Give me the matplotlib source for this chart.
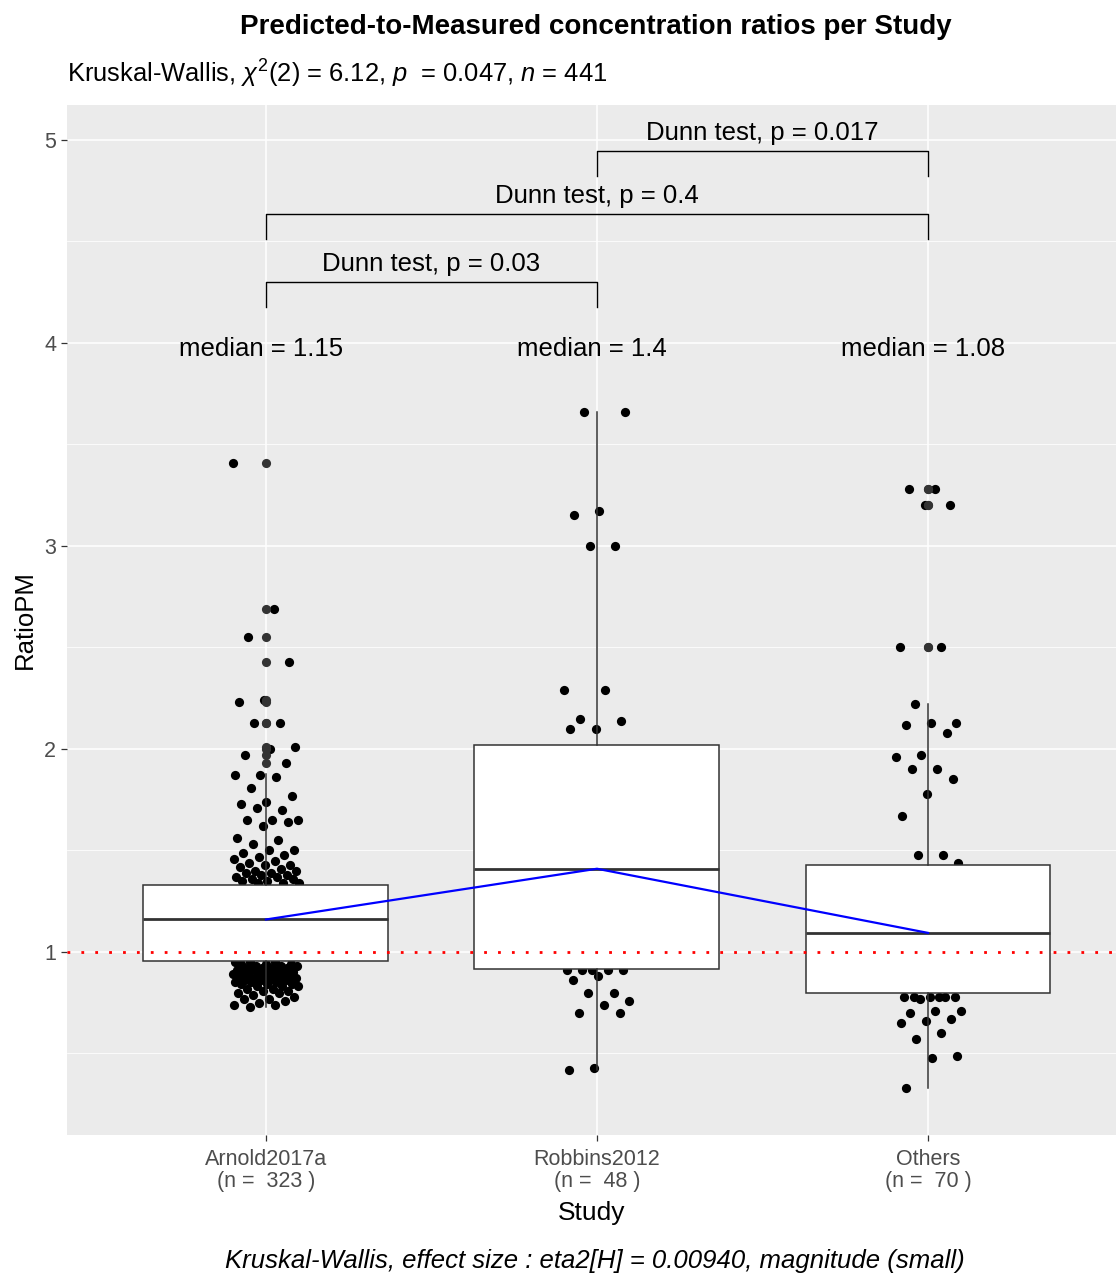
import matplotlib
matplotlib.use("Agg")
import matplotlib.pyplot as plt
import numpy as np

plt.rcParams["font.family"] = ["Liberation Sans", "DejaVu Sans"]
plt.rcParams["mathtext.fontset"] = "custom"
plt.rcParams["mathtext.rm"] = "Liberation Sans"
plt.rcParams["mathtext.it"] = "Liberation Sans:italic"

studies = ["Arnold2017a", "Robbins2012", "Others"]
counts = [323, 48, 70]
medians = [1.16, 1.41, 1.094]
median_labels = ["median = 1.15", "median = 1.4", "median = 1.08"]
q1 = [0.956, 0.916, 0.80]
q3 = [1.33, 2.02, 1.43]
whisker_low = [0.73, 0.42, 0.33]
whisker_high = [1.877, 3.66, 2.22]

# visible points (points hidden under the boxes are approximate)
arnold = [3.41, 2.69, 2.55, 2.43, 2.24, 2.23, 2.13, 2.13, 2.01, 2.00, 1.97, 1.93,
          1.87, 1.87, 1.86, 1.81, 1.77, 1.74, 1.73, 1.70, 1.71, 1.65, 1.65, 1.65,
          1.64, 1.62, 1.56, 1.55, 1.53, 1.50, 1.50, 1.49, 1.48, 1.47, 1.46, 1.45,
          1.44, 1.43, 1.43, 1.42, 1.41, 1.40, 1.40, 1.39, 1.39, 1.38, 1.38, 1.37,
          1.37, 1.36, 1.36, 1.35, 1.35, 1.34, 1.34, 1.34,
          1.30, 1.27, 1.24, 1.20, 1.17, 1.15, 1.13, 1.10, 1.07, 1.04, 1.01, 0.98,
          0.95, 0.95, 0.95, 0.94, 0.94, 0.94, 0.93, 0.93, 0.93, 0.92, 0.92, 0.92,
          0.92, 0.91, 0.91, 0.91, 0.90, 0.90, 0.90, 0.90, 0.89, 0.89, 0.89, 0.88,
          0.88, 0.88, 0.88, 0.87, 0.87, 0.87, 0.86, 0.86, 0.86, 0.86, 0.85, 0.85,
          0.85, 0.84, 0.84, 0.84, 0.83, 0.83, 0.83, 0.82, 0.82, 0.81, 0.81, 0.80,
          0.80, 0.79, 0.78, 0.77, 0.77, 0.76, 0.75, 0.74, 0.74, 0.73]
robbins = [3.66, 3.66, 3.17, 3.15, 3.00, 3.00, 2.29, 2.29, 2.15, 2.14, 2.10, 2.10,
           1.90, 1.70, 1.50, 1.30, 1.10, 1.00,
           0.91, 0.91, 0.91, 0.91, 0.91, 0.88, 0.86, 0.80, 0.80, 0.76, 0.74, 0.70,
           0.70, 0.43, 0.42]
others = [3.28, 3.28, 3.20, 3.20, 2.50, 2.50, 2.22, 2.13, 2.13, 2.12, 2.08, 1.97,
          1.96, 1.90, 1.90, 1.85, 1.78, 1.67, 1.48, 1.48, 1.44,
          1.30, 1.20, 1.10, 1.00, 0.90,
          0.78, 0.78, 0.78, 0.78, 0.78, 0.78, 0.77, 0.71, 0.71, 0.70, 0.67, 0.66,
          0.65, 0.60, 0.57, 0.49, 0.48, 0.33]
groups = [arnold, robbins, others]

dunn_pairs = [(1, 2), (1, 3), (2, 3)]
dunn_labels = ["Dunn test, p = 0.03", "Dunn test, p = 0.4", "Dunn test, p = 0.017"]
dunn_y = [4.30, 4.635, 4.946]

fig = plt.figure(figsize=(11.16, 12.76), dpi=100)
ax = fig.add_axes([67 / 1116, 1 - 1135 / 1276, (1116 - 67) / 1116, (1135 - 105) / 1276])
ax.set_facecolor("#EBEBEB")
for s in ax.spines.values():
    s.set_visible(False)

# jittered points (deterministic jitter)
for k, vals in enumerate(groups):
    idx = np.arange(len(vals))
    jit = ((idx * 0.6180339887 + 0.3 * k) % 1 * 2 - 1) * 0.1
    ax.scatter(k + 1 + jit, vals, s=44, color="black", linewidths=0, zorder=2)

stats = []
for k, vals in enumerate(groups):
    v = np.array(vals)
    fl = v[(v > whisker_high[k]) | (v < whisker_low[k])]
    stats.append(dict(med=medians[k], q1=q1[k], q3=q3[k], whislo=whisker_low[k],
                      whishi=whisker_high[k], fliers=fl, label=studies[k]))
ax.bxp(stats, positions=[1, 2, 3], widths=0.74, patch_artist=True, showcaps=False,
       boxprops=dict(facecolor="white", edgecolor="#333333", linewidth=1.1, zorder=3),
       medianprops=dict(color="#333333", linewidth=2.0, zorder=3.5),
       whiskerprops=dict(color="#333333", linewidth=1.1, zorder=3),
       flierprops=dict(marker="o", markerfacecolor="#333333", markeredgecolor="none",
                       markersize=6.6, zorder=4))

ax.plot([1, 2, 3], medians, color="blue", linewidth=1.6, zorder=5)
ax.axhline(1, color="red", linewidth=2, linestyle=(0, (1, 4)), zorder=5)

for k in range(3):
    ax.text(k + 1 - 0.015, 3.97, median_labels[k], ha="center", va="center",
            fontsize=18.5, zorder=6)

for (a, b), lab, yy in zip(dunn_pairs, dunn_labels, dunn_y):
    ax.plot([a, a, b, b], [yy - 0.125, yy, yy, yy - 0.125], color="black",
            linewidth=1.0, zorder=6)
    ax.text((a + b) / 2, yy + 0.09, lab, ha="center", va="center", fontsize=18.5)

ax.set_xlim(0.399, 3.568)
ax.set_ylim(0.0985, 5.172)
ax.set_xticks([1, 2, 3])
ax.set_xticklabels([f"{s}\n(n =  {n} )" for s, n in zip(studies, counts)],
                   fontsize=15.5, color="#4D4D4D", linespacing=1.1)
ax.set_yticks([1, 2, 3, 4, 5])
ax.set_yticklabels(["1", "2", "3", "4", "5"], fontsize=15.5, color="#4D4D4D")
ax.set_yticks([0.5, 1.5, 2.5, 3.5, 4.5], minor=True)
ax.tick_params(axis="both", which="major", length=4.3, width=0.9, color="#333333", pad=3.5)
ax.tick_params(axis="x", which="major", pad=5.5)
ax.tick_params(axis="y", which="minor", length=0)
ax.grid(which="major", color="white", linewidth=1.1)
ax.grid(which="minor", axis="y", color="white", linewidth=0.55)
ax.set_axisbelow(True)

ax.set_xlabel("Study", fontsize=19, labelpad=6)
ax.set_ylabel("RatioPM", fontsize=18.5, labelpad=5)

fig.text(596 / 1116, 1 - 27 / 1276, "Predicted-to-Measured concentration ratios per Study",
         ha="center", va="center", fontsize=20, fontweight="bold")
fig.text(67 / 1116, 1 - 74 / 1276,
         r"Kruskal-Wallis, $\chi^2$(2) = 6.12, $p$  = 0.047, $n$ = 441",
         ha="left", va="center", fontsize=18.4)
fig.text(595 / 1116, 1 - 1261 / 1276,
         "Kruskal-Wallis, effect size : eta2[H] = 0.00940, magnitude (small)",
         ha="center", va="center", fontsize=18.5, style="italic")

fig.savefig("out.png", dpi=100)
